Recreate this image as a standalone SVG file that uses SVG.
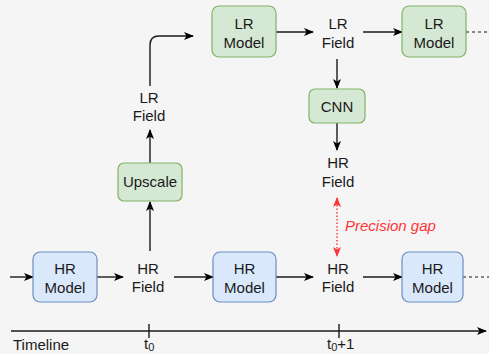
<svg xmlns="http://www.w3.org/2000/svg" width="489" height="354" viewBox="0 0 489 354">
<style>
text{font-family:"Liberation Sans",Arial,sans-serif;font-size:15px;fill:#1a1a1a;text-anchor:middle}
.sub{font-size:11px}
.hr{fill:#dae8fc;stroke:#6c8ebf;stroke-width:1.2}
.lr{fill:#d5e8d4;stroke:#82b366;stroke-width:1.2}
.c{fill:none;stroke:#1a1a1a;stroke-width:1.4}
.d{fill:none;stroke:#1a1a1a;stroke-width:1.2;stroke-dasharray:3 3}
.red{fill:none;stroke:#ff3333;stroke-width:1.4;stroke-dasharray:1.5 2}
</style>
<defs>
<marker id="ah" viewBox="0 0 10 10" refX="9" refY="5" markerWidth="10" markerHeight="10" markerUnits="userSpaceOnUse" orient="auto">
<path d="M0,1 L10,5 L0,9 L2.5,5 Z" fill="#000"/>
</marker>
<marker id="ar" viewBox="0 0 10 10" refX="9" refY="5" markerWidth="10" markerHeight="10" markerUnits="userSpaceOnUse" orient="auto-start-reverse">
<path d="M0,1 L10,5 L0,9 L2.5,5 Z" fill="#ff3333"/>
</marker>
</defs>
<rect width="489" height="354" fill="#f5f5f5"/>
<g id="connectors">
<path class="c" d="M10,277 H33" marker-end="url(#ah)"/>
<path class="c" d="M97,277 H123" marker-end="url(#ah)"/>
<path class="c" d="M174,277 H213" marker-end="url(#ah)"/>
<path class="c" d="M276,277 H313" marker-end="url(#ah)"/>
<path class="c" d="M363,277 H402" marker-end="url(#ah)"/>
<path class="d" d="M463,277 H489"/>
<path class="c" d="M150,251 V202" marker-end="url(#ah)"/>
<path class="c" d="M150,163 V130" marker-end="url(#ah)"/>
<path class="c" d="M150,86 V45 Q150,36 159,36 H193" marker-end="url(#ah)"/>
<path class="c" d="M276,32 H313" marker-end="url(#ah)"/>
<path class="c" d="M363,32 H402" marker-end="url(#ah)"/>
<path class="d" d="M466,32 H489"/>
<path class="c" d="M337,59 V88" marker-end="url(#ah)"/>
<path class="c" d="M337,123 V150" marker-end="url(#ah)"/>
<path class="red" d="M337,198 V256" marker-start="url(#ar)" marker-end="url(#ar)"/>
<path class="c" d="M11,331 H486" marker-end="url(#ah)"/>
<path class="c" d="M149,324 V338"/>
<path class="c" d="M339,324 V338"/>
</g>
<g id="hr-model-1"><rect class="hr" x="33" y="252" width="64" height="50" rx="7"/><text x="65" y="274">HR</text><text x="65" y="293">Model</text></g>
<g id="hr-field-1"><text x="148" y="274">HR</text><text x="148" y="292">Field</text></g>
<g id="hr-model-2"><rect class="hr" x="213" y="252" width="63" height="50" rx="7"/><text x="244.5" y="274">HR</text><text x="244.5" y="293">Model</text></g>
<g id="hr-field-2"><text x="338" y="274">HR</text><text x="338" y="292">Field</text></g>
<g id="hr-model-3"><rect class="hr" x="402" y="252" width="61" height="50" rx="7"/><text x="432.5" y="274">HR</text><text x="432.5" y="293">Model</text></g>
<g id="upscale"><rect class="lr" x="118" y="163" width="64" height="38" rx="6"/><text x="150" y="187">Upscale</text></g>
<g id="lr-field-1"><text x="149" y="103">LR</text><text x="149" y="121">Field</text></g>
<g id="lr-model-1"><rect class="lr" x="212" y="6" width="64" height="51" rx="7"/><text x="244" y="29">LR</text><text x="244" y="48">Model</text></g>
<g id="lr-field-2"><text x="338" y="29">LR</text><text x="338" y="48">Field</text></g>
<g id="lr-model-2"><rect class="lr" x="402" y="6" width="64" height="51" rx="7"/><text x="434" y="29">LR</text><text x="434" y="48">Model</text></g>
<g id="cnn"><rect class="lr" x="309" y="89" width="56" height="34" rx="6"/><text x="337" y="112">CNN</text></g>
<g id="hr-field-up"><text x="338" y="168">HR</text><text x="338" y="187">Field</text></g>
<g id="precision-gap"><text x="345" y="231" style="text-anchor:start;font-style:italic;fill:#ff3333">Precision gap</text></g>
<g id="timeline"><text x="13" y="350" style="text-anchor:start">Timeline</text>
<text x="144" y="349" style="text-anchor:start">t<tspan class="sub" dy="2">0</tspan></text>
<text x="327" y="349" style="text-anchor:start">t<tspan class="sub" dy="2">0</tspan><tspan dy="-2">+1</tspan></text></g>
</svg>
